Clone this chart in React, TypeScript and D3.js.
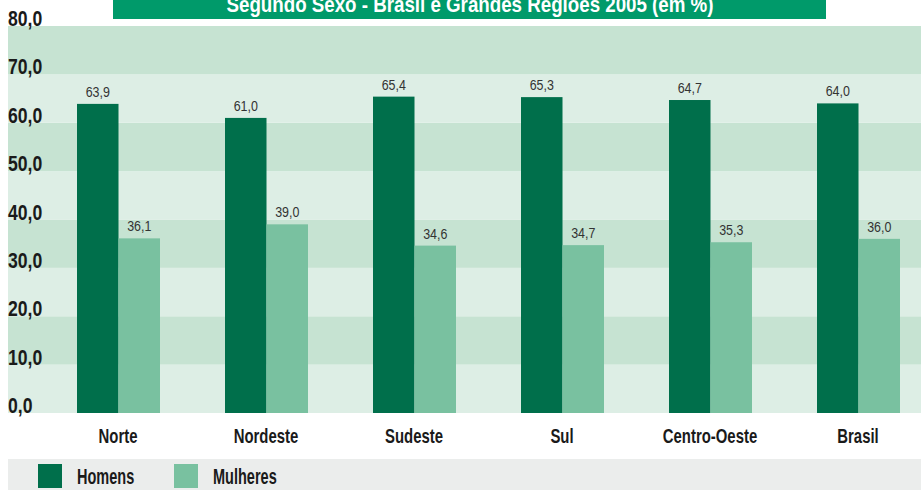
import { useEffect, useRef } from "react";
import * as d3 from "d3";

const WIDTH = 921;
const HEIGHT = 490;

const title = "Segundo Sexo - Brasil e Grandes Regiões 2005 (em %)";
const regions = ["Norte", "Nordeste", "Sudeste", "Sul", "Centro-Oeste", "Brasil"];
const seriesNames = ["Homens", "Mulheres"];
const homens = [63.9, 61.0, 65.4, 65.3, 64.7, 64.0];
const mulheres = [36.1, 39.0, 34.6, 34.7, 35.3, 36.0];
const yTicks = [0, 10, 20, 30, 40, 50, 60, 70, 80];

const COLORS = { Homens: "#006f4b", Mulheres: "#79c1a0" };
const BAND_DARK = "#c6e3d2";
const BAND_LIGHT = "#ddeee5";
const FONT = "'Liberation Sans', Arial, sans-serif";

const fmt = (v) => v.toFixed(1).replace(".", ",");

export default function App() {
  const svgRef = useRef(null);

  useEffect(() => {
    document.body.style.margin = "0";
    const svg = d3.select(svgRef.current);
    svg.selectAll("*").remove();

    const plotLeft = 8;
    const plotRight = WIDTH;

    const y = d3.scaleLinear().domain([0, 80]).range([413, 26]);
    const x0 = d3.scaleBand().domain(regions).range([44, 932]);
    const x1 = d3.scaleBand().domain(seriesNames).range([33, 116]);

    // alternating bands, top one dark
    const bands = d3.pairs(yTicks);
    svg
      .append("g")
      .selectAll("rect")
      .data(bands)
      .join("rect")
      .attr("x", plotLeft)
      .attr("width", plotRight - plotLeft)
      .attr("y", (d) => y(d[1]))
      .attr("height", (d) => y(d[0]) - y(d[1]))
      .attr("fill", (d, i) => ((bands.length - 1 - i) % 2 === 0 ? BAND_DARK : BAND_LIGHT));

    // title box (text is cut at the top like the original)
    svg.append("rect").attr("x", 113).attr("y", 0).attr("width", 713).attr("height", 19).attr("fill", "#009a6a");
    svg
      .append("text")
      .attr("x", 470)
      .attr("y", 12)
      .attr("text-anchor", "middle")
      .attr("font-family", FONT)
      .attr("font-weight", "bold")
      .attr("font-size", 22)
      .attr("textLength", 487)
      .attr("lengthAdjust", "spacingAndGlyphs")
      .attr("fill", "#ffffff")
      .text(title);

    // y labels
    svg
      .append("g")
      .selectAll("text")
      .data(yTicks)
      .join("text")
      .attr("transform", (d) => `translate(${plotLeft},${y(d)}) scale(0.8,1)`)
      .attr("font-family", FONT)
      .attr("font-weight", "bold")
      .attr("font-size", 22)
      .attr("fill", "#1a1a1a")
      .text((d) => fmt(d));

    const data = regions.map((r, i) => ({
      region: r,
      values: [
        { key: "Homens", value: homens[i] },
        { key: "Mulheres", value: mulheres[i] },
      ],
    }));

    const groups = svg
      .append("g")
      .selectAll("g")
      .data(data)
      .join("g")
      .attr("transform", (d) => `translate(${x0(d.region)},0)`);

    groups
      .selectAll("rect")
      .data((d) => d.values)
      .join("rect")
      .attr("x", (d) => x1(d.key))
      .attr("width", x1.bandwidth())
      .attr("y", (d) => y(d.value))
      .attr("height", (d) => y(0) - y(d.value))
      .attr("fill", (d) => COLORS[d.key]);

    groups
      .selectAll("text")
      .data((d) => d.values)
      .join("text")
      .attr("transform", (d) => `translate(${x1(d.key) + x1.bandwidth() / 2},${y(d.value) - 7}) scale(0.83,1)`)
      .attr("text-anchor", "middle")
      .attr("font-family", FONT)
      .attr("font-size", 15)
      .attr("fill", "#333333")
      .text((d) => fmt(d.value));

    // category labels
    svg
      .append("g")
      .selectAll("text")
      .data(regions)
      .join("text")
      .attr("transform", (d) => `translate(${x0(d) + x0.bandwidth() / 2},443) scale(0.71,1)`)
      .attr("text-anchor", "middle")
      .attr("font-family", FONT)
      .attr("font-weight", "bold")
      .attr("font-size", 21)
      .attr("fill", "#1a1a1a")
      .text((d) => d);

    // legend
    svg.append("rect").attr("x", plotLeft).attr("y", 459).attr("width", plotRight - plotLeft).attr("height", 31).attr("fill", "#ebedec");
    const legendX = [38, 174];
    const leg = svg
      .append("g")
      .selectAll("g")
      .data(seriesNames)
      .join("g")
      .attr("transform", (d, i) => `translate(${legendX[i]},464)`);
    leg.append("rect").attr("width", 24).attr("height", 24).attr("fill", (d) => COLORS[d]);
    leg
      .append("text")
      .attr("transform", "translate(39,20) scale(0.66,1)")
      .attr("font-family", FONT)
      .attr("font-weight", "bold")
      .attr("font-size", 22)
      .attr("fill", "#1a1a1a")
      .text((d) => d);
  }, []);

  return <svg ref={svgRef} width={WIDTH} height={HEIGHT} style={{ display: "block" }} />;
}
